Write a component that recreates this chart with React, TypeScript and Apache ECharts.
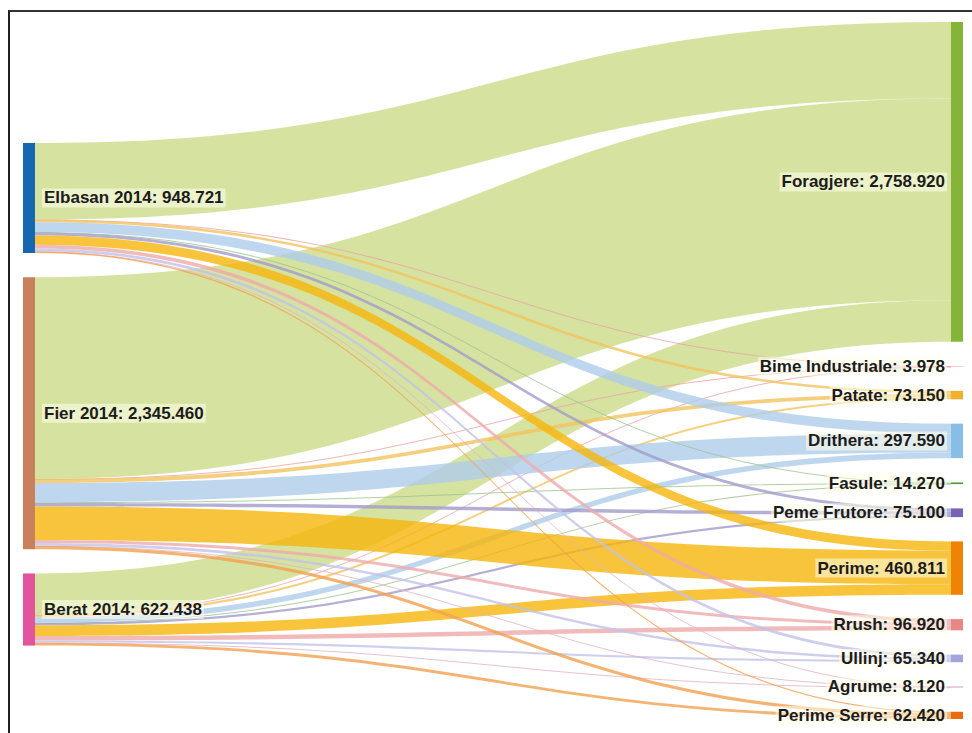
import React, { useEffect, useRef } from "react";
import * as echarts from "echarts";

// ---------- data ----------
const sources = ["Elbasan 2014", "Fier 2014", "Berat 2014"];
const sourceTotals = [948.721, 2345.46, 622.438];

const targets = [
  "Foragjere",
  "Bime Industriale",
  "Patate",
  "Drithera",
  "Fasule",
  "Peme Frutore",
  "Perime",
  "Rrush",
  "Ullinj",
  "Agrume",
  "Perime Serre",
];
const targetTotals = [2758.92, 3.978, 73.15, 297.59, 14.27, 75.1, 460.811, 96.92, 65.34, 8.12, 62.42];

// flows from each source to each target (same order as targets)
const fromElbasan = [660, 0.9, 22, 85, 4, 26, 80, 32, 25, 2, 11.821];
const fromFier = [1740, 2.2, 33, 165, 7, 30, 290, 26, 22, 4, 26.26];
const fromBerat = [358.92, 0.878, 18.15, 47.59, 3.27, 19.1, 90.811, 38.92, 18.34, 2.12, 24.339];
const flows = [fromElbasan, fromFier, fromBerat];

// ---------- styles ----------
const sourceColors = ["#1666b0", "#c9805c", "#e2559c"];
const targetColors = [
  "#86b43a", "#e89090", "#f0b030", "#88bde6", "#4d9a3a", "#7566b5",
  "#ef8306", "#e98686", "#a3a3dd", "#cf9aab", "#ec6a10",
];
const linkColors = [
  "#ccdb88", "#eba4a4", "#f3c35c", "#aecdea", "#9cc48c", "#a29bcb",
  "#f5b50b", "#efaaaa", "#c2c2e8", "#e2b3c2", "#f2a050",
];

const SERIES_TOP = 22;
const SERIES_HEIGHT = 697;
const NODE_GAP = 24.3;
const LEFT_COLUMN_OFFSET = 121;

const fmt = (v: number) =>
  v.toLocaleString("en-US", { minimumFractionDigits: 3, maximumFractionDigits: 3 });

export default function App() {
  const ref = useRef<HTMLDivElement>(null);

  useEffect(() => {
    if (!ref.current) return;
    const chart = echarts.init(ref.current, undefined, { renderer: "svg" });

    const sumT = targetTotals.reduce((a, b) => a + b, 0);
    const ky = (SERIES_HEIGHT - (targets.length - 1) * NODE_GAP) / sumT;

    const totals: Record<string, number> = {};
    sources.forEach((s, i) => (totals[s] = sourceTotals[i]));
    targets.forEach((t, i) => (totals[t] = targetTotals[i]));

    let cum = LEFT_COLUMN_OFFSET;
    const sourceNodes = sources.map((name, i) => {
      const localY = cum / SERIES_HEIGHT;
      cum += sourceTotals[i] * ky + NODE_GAP;
      return {
        name,
        localY,
        itemStyle: { color: sourceColors[i] },
        label: { position: "right", distance: 7 },
      };
    });
    const targetNodes = targets.map((name, i) => ({
      name,
      itemStyle: { color: targetColors[i] },
      label: { position: "left", distance: 4 },
    }));

    const links: any[] = [];
    targets.forEach((t, ti) => {
      sources.forEach((s, si) => {
        links.push({
          source: s,
          target: t,
          value: flows[si][ti],
          lineStyle: { color: linkColors[ti], opacity: 0.8 },
        });
      });
    });

    chart.setOption({
      animation: false,
      backgroundColor: "#ffffff",
      graphic: [
        {
          type: "line",
          shape: { x1: 9, y1: 10, x2: 9, y2: 733 },
          style: { stroke: "#222", lineWidth: 2 },
        },
        {
          type: "line",
          shape: { x1: 9, y1: 11, x2: 972, y2: 11 },
          style: { stroke: "#333", lineWidth: 2 },
        },
      ],
      series: [
        {
          type: "sankey",
          left: 23,
          right: 9,
          top: SERIES_TOP,
          height: SERIES_HEIGHT,
          nodeWidth: 12,
          nodeGap: NODE_GAP,
          layoutIterations: 0,
          draggable: false,
          emphasis: { disabled: true },
          data: [...sourceNodes, ...targetNodes],
          links,
          itemStyle: { borderWidth: 0 },
          lineStyle: { curveness: 0.5 },
          label: {
            show: true,
            fontFamily: "Liberation Sans, Arial, sans-serif",
            fontWeight: "bold",
            fontSize: 17,
            color: "#1c1c1c",
            backgroundColor: "rgba(255,255,235,0.55)",
            padding: [1, 2],
            formatter: (p: any) => `${p.name}: ${fmt(totals[p.name])}`,
          },
        },
      ],
    });

    return () => chart.dispose();
  }, []);

  return (
    <div
      ref={ref}
      style={{ position: "fixed", left: 0, top: 0, width: 972, height: 733 }}
    />
  );
}
